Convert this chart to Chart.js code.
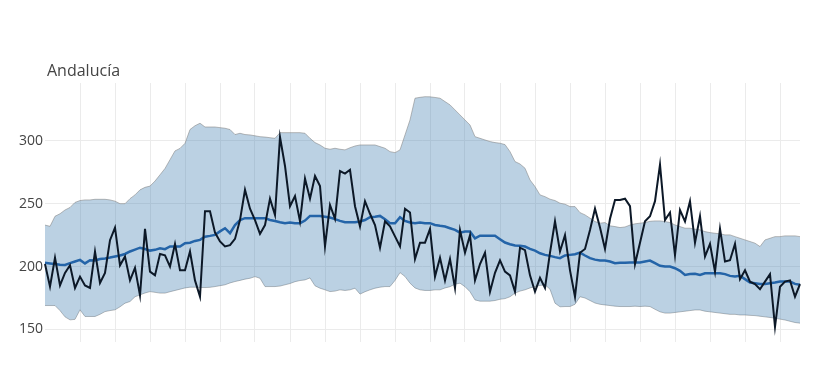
<!DOCTYPE html>
<html>
<head>
<meta charset="utf-8">
<script src="https://cdn.jsdelivr.net/npm/chart.js@4.4.0/dist/chart.umd.min.js"></script>
<style>
  html, body { margin: 0; padding: 0; background: #fff; }
  #wrap { position: relative; width: 821px; height: 367px; }
  #title { position: absolute; left: 47px; top: 62px; font: 16px "Open Sans", sans-serif; line-height: 16px; color: #444; white-space: nowrap; }
  canvas { position: absolute; left: 0; top: 0; }
</style>
</head>
<body>
<div id="wrap">
  <canvas id="c" width="821" height="367"></canvas>
  <div id="title">Andalucía</div>
</div>
<script>
// Daily values (one per day)
const observed = [202,184,207,185,195,201,183,192,185,183,
  212,187,195,221,231,201,208,189,199,177,
  230,196,193,210,209,200,218,197,197,212,
  189,176,244,244,227,220,216,217,222,237,
  261,246,237,226,233,254,241,303,280,248,
  256,236,270,254,272,264,216,249,238,276,
  274,277,248,232,252,242,233,215,236,232,
  224,216,246,243,206,219,219,230,192,207,
  189,206,183,229,211,225,189,202,211,180,
  195,205,196,193,180,215,213,193,180,191,
  183,211,236,212,225,197,176,211,214,229,
  246,231,214,238,253,253,254,248,202,219,
  236,240,252,281,237,243,209,245,236,252,
  219,240,208,218,196,230,204,205,218,190,
  197,188,186,182,188,194,152,184,188,189,
  176,186];

const expected = [203,202.5,202,201.5,201.3,202.7,204,205.3,202.5,205,
  204.8,206,206.5,207.2,208,208.8,210,212,213.5,215,
  214,212.7,213.3,214.6,213.8,216,216,216,218.6,219,
  220.4,221.2,223.8,224.4,225.2,228,230.5,226.5,233,237,
  238.5,238.5,238.5,238.5,238.5,237,236.3,235.3,234.5,235,
  234.5,234.5,236.6,240.3,240.3,240.3,239.7,239,237.7,236.3,
  235.3,235.3,235.3,235.8,237,239.2,239.7,240.3,237.7,234.5,
  234.5,239.2,236.3,235,234.5,235,234.5,234.5,233.1,232.4,
  231.8,230.5,229.2,227,227.8,227.8,222.5,224.6,224.6,224.6,
  224.6,221.8,219.1,217.8,216.7,216.5,215.9,214,212.7,210.6,
  209.3,208.5,207.5,206.7,208.8,209.3,209.8,211.1,208.8,206.7,
  205.5,204.8,204.8,204,202.7,203,203,203.2,203.2,203.2,
  204,204.8,202.7,200.6,200,200,198.7,196.6,193.4,194,
  194.2,193.4,194.7,194.7,194.7,194.7,194,192.6,192.1,192.6,
  190,187.3,186.8,186.2,186.2,186.8,187.3,188.1,188.1,188.1,
  186.2,185.5];

const upper = [233,232,240,242,245,247,251,252.5,253,253,
  253.5,253.5,253.5,253,252,250,250,254,257,261,
  263,264,268,273,278,285,292,294,298,309,
  312,314,311,311,311,310.5,310,309,305,306,
  305,304.7,304,303.3,303,302.5,302,306.5,306.5,306.5,
  306.5,306.5,306,302,298.6,296.7,294.1,293.3,294.1,293.3,
  292.8,294.5,295.9,296.7,296.7,296.7,296.7,295.4,294.1,291.4,
  290.6,292.8,304.7,316.6,333.9,334.6,335.1,335,334.5,333.9,
  331.2,328.6,324.6,320.6,316.6,312.6,303.3,302,300.7,299.4,
  298.6,298.1,297,291.4,283.5,281.6,278.2,268.9,263.6,257,
  255.6,253.6,252.5,250.4,249.6,247.7,247.7,242.9,241.1,238.5,
  235.8,234.5,235,232.4,231.8,231,231.5,233,234,234.5,
  235,236,236.3,236.3,235.8,235,233.1,231.8,230.5,230.5,
  229.7,229.2,227.8,227,226.5,226,225.2,225.2,223.8,222.5,
  221.2,219.9,218.6,215.9,221.2,222.5,223.8,223.8,224.4,224.4,
  224.4,223.8];

const lower = [169,169,169,165,160,157.6,158,165.6,160.3,160.3,
  160.3,162,164.2,165,165.6,168,170.9,172.2,176,177.5,
  179,180.1,179.5,178.9,178.9,180,181,182,183,183.6,
  183.6,183.4,183.3,183.5,184.1,184.8,185.5,187,188.1,189,
  190,190.7,192,190.7,184.1,184.1,184.1,184.5,185.5,186.5,
  188,188.9,189.4,191,184.7,182.8,181.5,180.1,180.5,181.5,
  181,181.5,182.8,178.1,180,181.5,182.8,183.6,184.1,184.1,
  189,195.2,192.1,186.8,183,181.5,181,181,181.5,181.5,
  183,184,186,186.8,184,180,173.5,172.5,172.5,172.5,
  173,174,174.5,176,178.9,180.5,181.5,183,184.1,185,
  185.5,182,170.9,168,168.2,168.2,170,176,175,173,
  171,170,169.5,169,168.5,168.2,168.2,168.2,168.5,168.2,
  168.5,168.2,166,164,163,163,163.5,164,164.5,165,
  165.5,165.5,164.5,164,163.5,163,162.5,162,162,161.5,
  161.5,161.2,161,160.5,160,159.5,159,158.2,157.5,156.5,
  155.5,155];

const days = observed.map((_, i) => i);   // day index along the x axis
const yTicks = [150, 200, 250, 300];
const weekStep = 7;

const gridColor = '#ebebeb';

new Chart(document.getElementById('c'), {
  type: 'line',
  data: {
    labels: days,
    datasets: [
      { label: 'upper', data: upper, order: 3, fill: '+1',
        backgroundColor: 'rgba(70,130,180,0.37)', borderColor: 'rgba(130,130,130,0.55)',
        borderWidth: 1, pointRadius: 0, tension: 0 },
      { label: 'lower', data: lower, order: 3, fill: false,
        borderColor: 'rgba(130,130,130,0.55)', borderWidth: 1, pointRadius: 0, tension: 0 },
      { label: 'expected', data: expected, order: 1, fill: false,
        borderColor: '#2464a8', borderWidth: 2.5, pointRadius: 0, tension: 0 },
      { label: 'observed', data: observed, order: 0, fill: false,
        borderColor: '#0c1827', borderWidth: 2, pointRadius: 0, tension: 0 }
    ]
  },
  options: {
    responsive: false,
    animation: false,
    devicePixelRatio: 1,
    layout: { padding: { left: 0, right: 21, top: 83, bottom: 25 } },
    plugins: { legend: { display: false }, tooltip: { enabled: false }, title: { display: false } },
    scales: {
      x: {
        type: 'category',
        offset: false,
        border: { display: false },
        grid: { color: gridColor, lineWidth: 1, drawTicks: false },
        ticks: { display: false, autoSkip: false },
        afterBuildTicks: (s) => { s.ticks = s.ticks.filter(t => t.value > 0 && t.value % weekStep === 0); },
        afterFit: (s) => { s.height = 0; }
      },
      y: {
        min: 140, max: 346,
        border: { display: false },
        grid: { color: gridColor, lineWidth: 1, drawTicks: false },
        ticks: { padding: 2, color: '#444', font: { family: '"Open Sans", sans-serif', size: 14 } },
        afterBuildTicks: (s) => { s.ticks = yTicks.map(v => ({ value: v })); },
        afterFit: (s) => { s.width = 45; }
      }
    }
  }
});
</script>
</body>
</html>
